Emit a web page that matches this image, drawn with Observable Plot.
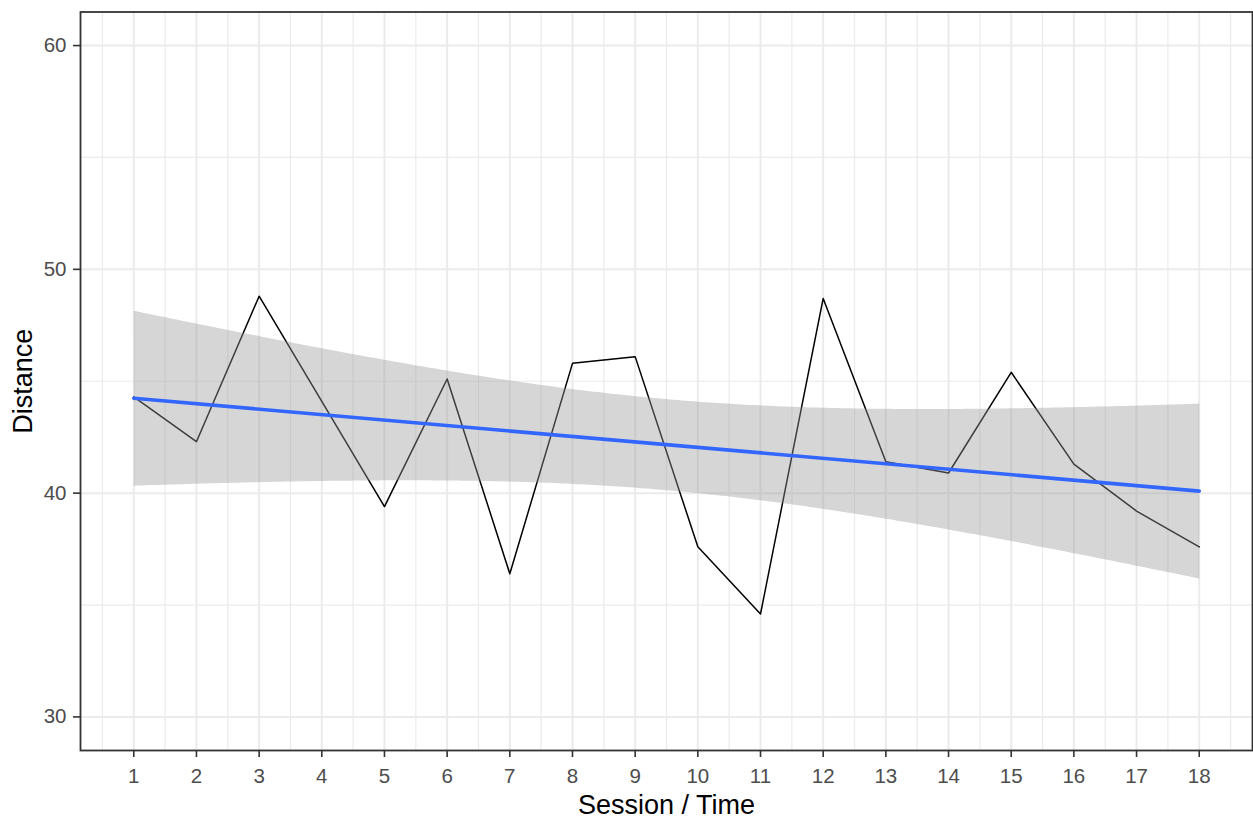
<!DOCTYPE html>
<html>
<head>
<meta charset="utf-8">
<script src="https://cdn.jsdelivr.net/npm/d3@7"></script>
<script src="https://cdn.jsdelivr.net/npm/@observablehq/plot@0.6"></script>
<style>
  html, body { margin: 0; padding: 0; background: #ffffff; }
  #chart svg { display: block; }
</style>
</head>
<body>
<div id="chart"></div>
<script>
// ---- data ----
const sessions = [1, 2, 3, 4, 5, 6, 7, 8, 9, 10, 11, 12, 13, 14, 15, 16, 17, 18];
const distance = [44.3, 42.3, 48.8, 44.1, 39.4, 45.1, 36.4, 45.8, 46.1, 37.6, 34.6, 48.7, 41.4, 40.9, 45.4, 41.3, 39.2, 37.6];
const xMinorBreaks = [0.5, 1.5, 2.5, 3.5, 4.5, 5.5, 6.5, 7.5, 8.5, 9.5, 10.5, 11.5, 12.5, 13.5, 14.5, 15.5, 16.5, 17.5, 18.5];
const yMajorBreaks = [30, 40, 50, 60];
const yMinorBreaks = [35, 45, 55];
const xTitle = "Session / Time";
const yTitle = "Distance";

const data = sessions.map((s, i) => ({session: s, distance: distance[i]}));

const gridColor = "#ebebeb";
const font = "'Liberation Sans', Arial, sans-serif";

const chart = Plot.plot({
  width: 1253,
  height: 821,
  marginLeft: 80,
  marginRight: 1,
  marginTop: 11.5,
  marginBottom: 71,
  style: {fontFamily: font, background: "#ffffff"},
  x: {domain: [0.15, 18.85]},
  y: {domain: [28.5, 61.5]},
  marks: [
    Plot.gridX(xMinorBreaks, {stroke: gridColor, strokeOpacity: 1, strokeWidth: 1.2}),
    Plot.gridY(yMinorBreaks, {stroke: gridColor, strokeOpacity: 1, strokeWidth: 1.2}),
    Plot.gridX(sessions, {stroke: gridColor, strokeOpacity: 1, strokeWidth: 2}),
    Plot.gridY(yMajorBreaks, {stroke: gridColor, strokeOpacity: 1, strokeWidth: 2}),
    Plot.line(data, {x: "session", y: "distance", stroke: "#000000", strokeWidth: 1.5}),
    Plot.linearRegressionY(data, {
      x: "session", y: "distance", ci: 0.95,
      stroke: "#3366FF", strokeWidth: 3.6,
      fill: "#999999", fillOpacity: 0.4
    }),
    Plot.axisX(sessions, {
      tickSize: 7, tickPadding: 11, fontSize: 20.5,
      stroke: "#333333", fill: "#4d4d4d", strokeWidth: 1.6,
      label: null, tickFormat: d => String(d)
    }),
    Plot.axisY(yMajorBreaks, {
      tickSize: 7, tickPadding: 7, fontSize: 20.5,
      stroke: "#333333", fill: "#4d4d4d", strokeWidth: 1.6,
      label: null, tickFormat: d => String(d)
    }),
    Plot.text([xTitle], {
      text: d => d, frameAnchor: "bottom", lineAnchor: "bottom", textAnchor: "middle",
      dy: 63, fontSize: 27, fill: "#000000"
    }),
    Plot.text([yTitle], {
      text: d => d, frameAnchor: "left", lineAnchor: "bottom", textAnchor: "middle",
      rotate: -90, dx: -49, fontSize: 27, fill: "#000000"
    }),
    Plot.frame({stroke: "#333333", strokeWidth: 1.8})
  ]
});

document.getElementById("chart").appendChild(chart);
</script>
</body>
</html>
